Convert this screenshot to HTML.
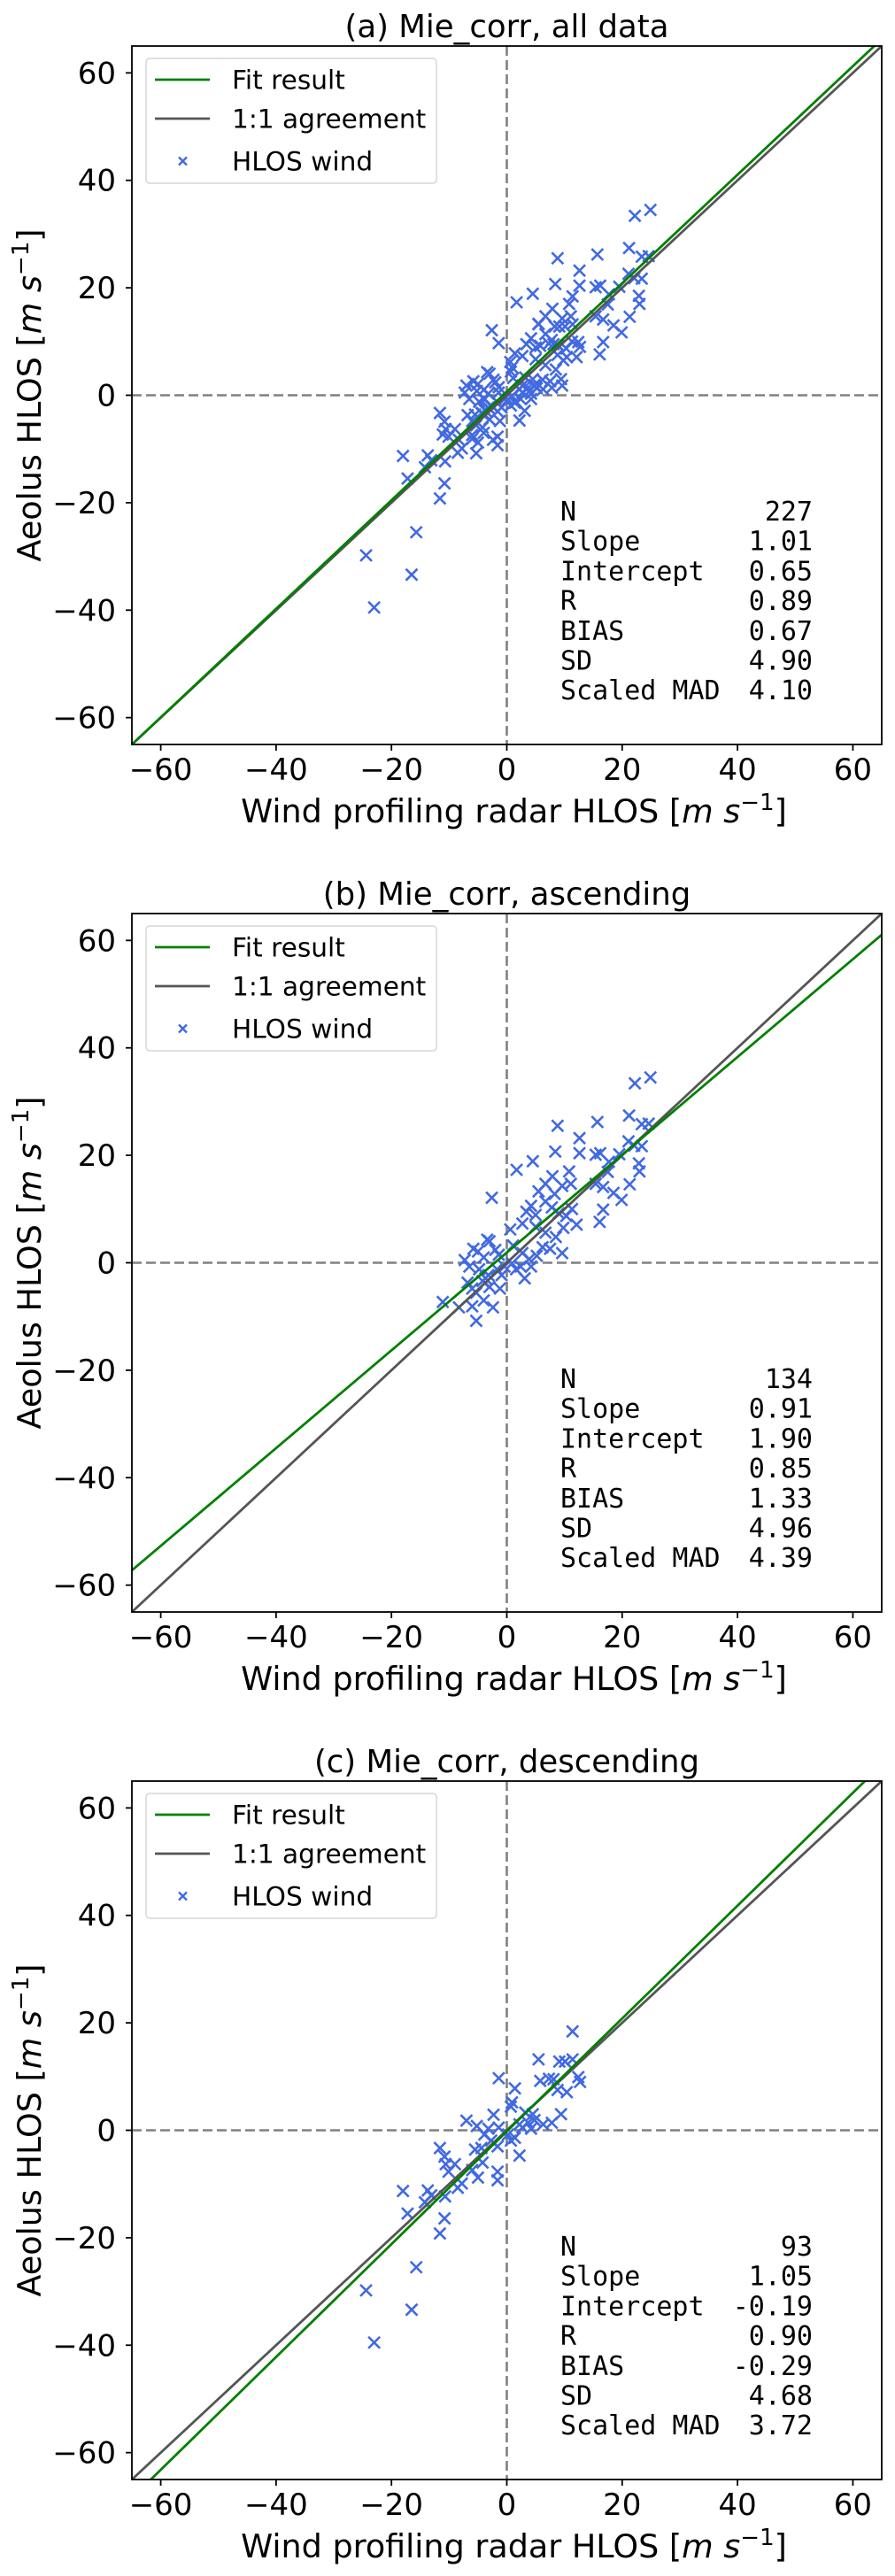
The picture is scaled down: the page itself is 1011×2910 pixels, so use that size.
<!DOCTYPE html>
<html><head><meta charset="utf-8"><style>
html,body{margin:0;padding:0;background:#fff;}
svg{display:block;font-family:"DejaVu Sans","Liberation Sans",sans-serif;}
</style></head><body>
<svg id="fig" width="1011" height="2910" viewBox="0 0 1011 2910" xmlns="http://www.w3.org/2000/svg"></svg>
<script>
const xTicks = [-60, -40, -20, 0, 20, 40, 60];
const yTicks = [-60, -40, -20, 0, 20, 40, 60];
const tickLabels = ["\u221260", "\u221240", "\u221220", "0", "20", "40", "60"];
const panelTitles = ["(a) Mie_corr, all data", "(b) Mie_corr, ascending", "(c) Mie_corr, descending"];
const fitSlopes = [1.01, 0.91, 1.05];
const fitIntercepts = [0.65, 1.90, -0.19];
const statNames = ["N", "Slope", "Intercept", "R", "BIAS", "SD", "Scaled MAD"];
const statsA = ["227", "1.01", "0.65", "0.89", "0.67", "4.90", "4.10"];
const statsB = ["134", "0.91", "1.90", "0.85", "1.33", "4.96", "4.39"];
const statsC = ["93", "1.05", "-0.19", "0.90", "-0.29", "4.68", "3.72"];
const ascX = [24.9,22.2,21.2,23.4,24.6,15.7,8.8,12.6,12.6,8.4,15.4,16.2,21.1,22.1,23.4,19.5,17.7,22.9,23.0,17.5,4.5,1.7,10.8,7.9,6.7,5.5,8.3,9.6,11.1,15.4,16.7,18.5,19.9,21.3,16.7,16.1,-2.6,4.2,5.0,3.4,6.7,7.8,9.0,10.3,11.3,12.1,9.8,8.5,9.6,2.7,0.6,5.0,6.7,6.2,7.5,1.1,2.7,3.9,5.2,2.4,3.1,4.2,1.6,0.9,-3.4,-3.0,-5.8,-5.0,-7.3,-6.5,-4.0,-2.0,-0.9,-1.7,-3.2,-4.2,-6.8,-6.0,-5.3,-4.0,-2.4,-6.0,-8.3,-11.1,-5.3,-1.2,-3.0,-0.4,-1.4,-4.8,-3.7];
const ascY = [34.5,33.4,27.4,25.8,25.9,26.2,25.5,23.2,20.4,20.7,20.1,20.4,22.6,21.8,21.7,20.2,18.8,18.5,17.0,16.9,18.9,17.3,17.0,16.1,14.7,13.3,12.8,14.3,14.7,14.7,14.1,13.0,11.7,14.6,9.9,7.6,12.1,10.6,8.9,9.5,11.4,10.3,9.2,8.7,10.0,7.1,6.5,4.8,1.8,7.3,6.2,6.7,5.6,2.9,2.6,3.2,1.8,0.7,1.3,-0.7,-2.9,-0.7,-1.2,-0.1,4.3,4.0,2.6,2.1,0.5,-0.7,1.0,2.4,-2.3,-1.2,-2.3,-3.4,-3.7,-4.8,-5.6,-7.0,-8.3,-8.1,-8.3,-7.3,-10.8,-4.8,-4.5,-0.7,1.5,-1.2,-2.9];
const descX = [11.4,5.5,9.1,10.1,11.4,-1.4,1.4,5.8,7.3,8.1,8.8,10.4,12.7,12.4,0.9,0.7,3.2,4.5,3.7,4.8,6.3,7.8,9.4,2.2,2.7,4.2,0.2,1.4,0.7,2.2,-7.0,-5.2,-2.3,-3.2,-1.4,-3.9,-2.7,-1.6,-5.5,-4.4,-4.2,-6.0,-5.0,-1.6,-1.6,-8.5,-7.8,-11.6,-10.8,-10.6,-10.1,-9.0,-13.7,-13.1,-14.2,-10.7,-18.0,-17.2,-10.8,-11.6,-15.7,-24.4,-16.5,-23.0];
const descY = [18.4,13.2,12.8,12.8,13.2,9.7,7.8,9.2,9.6,9.5,7.5,7.1,9.0,9.9,5.2,4.4,3.3,3.0,1.4,1.9,1.1,1.4,3.0,1.1,0.5,0.3,-0.8,-1.4,-1.9,-4.7,1.8,0.8,2.9,0.3,0.5,-0.8,-1.9,-3.0,-3.6,-3.3,-6.0,-7.4,-8.8,-7.7,-9.3,-10.7,-9.9,-3.3,-4.9,-6.3,-7.7,-6.3,-11.2,-12.1,-13.4,-12.3,-11.3,-15.5,-16.4,-19.2,-25.5,-29.8,-33.4,-39.5];

const NS = "http://www.w3.org/2000/svg";
const svg = document.getElementById("fig");
const PL = 149, PR = 996, PT0 = 52, PB0 = 841, PANEL_DY = 980;
function mk(tag, attrs, parent) {
  const e = document.createElementNS(NS, tag);
  for (const k in attrs) e.setAttribute(k, attrs[k]);
  parent.appendChild(e);
  return e;
}
function drawPanel(i, xs, ys, stats) {
  const top = PT0 + i * PANEL_DY, bot = PB0 + i * PANEL_DY;
  const sx = v => PL + (v + 65) / 130 * (PR - PL);
  const sy = v => bot - (v + 65) / 130 * (bot - top);
  const g = mk("g", {}, svg);
  
  
  const clipId = "clip" + i;
  const cp = mk("clipPath", {id: clipId}, g);
  mk("rect", {x: PL, y: top, width: PR - PL, height: bot - top}, cp);
  const t = mk("text", {x: (PL + PR) / 2, y: top - 10, "text-anchor": "middle", "font-size": 35.5}, g);
  t.textContent = panelTitles[i];
  
  
  const plot = mk("g", {"clip-path": "url(#" + clipId + ")"}, g);
  const hz = mk("line", {x1: PL, x2: PR, y1: sy(0), y2: sy(0), stroke: "#808080", "stroke-width": 2.6, "stroke-dasharray": "11,5"}, plot);
  
  
  const vt = mk("line", {x1: sx(0), x2: sx(0), y1: top, y2: bot, stroke: "#808080", "stroke-width": 2.6, "stroke-dasharray": "11,5"}, plot);
  
  
  for (let k = 0; k < xs.length; k++) {
    const cx = sx(xs[k]), cy = sy(ys[k]), r = 6.5;
    const p = mk("path", {d: `M${cx-r},${cy-r}L${cx+r},${cy+r}M${cx-r},${cy+r}L${cx+r},${cy-r}`, stroke: "#4169E1", "stroke-width": 2.6}, plot);
    
    
  }
  const one = mk("line", {x1: sx(-65), y1: sy(-65), x2: sx(65), y2: sy(65), stroke: "#555", "stroke-width": 2.8}, plot);
  
  
  const m = fitSlopes[i], b = fitIntercepts[i];
  const fit = mk("line", {x1: sx(-70), y1: sy(m * -70 + b), x2: sx(70), y2: sy(m * 70 + b), stroke: "#008000", "stroke-width": 2.8}, plot);
  
  
  const fr = mk("rect", {x: PL, y: top, width: PR - PL, height: bot - top, fill: "none", stroke: "#000", "stroke-width": 1.8}, g);
  
  
  for (let k = 0; k < xTicks.length; k++) {
    const x = sx(xTicks[k]);
    mk("line", {x1: x, x2: x, y1: bot, y2: bot + 7, stroke: "#000", "stroke-width": 1.8}, g);
    const tl = mk("text", {x: x, y: bot + 40, "text-anchor": "middle", "font-size": 34}, g);
    tl.textContent = tickLabels[k];
    
    
  }
  for (let k = 0; k < yTicks.length; k++) {
    const y = sy(yTicks[k]);
    mk("line", {x1: PL - 7, x2: PL, y1: y, y2: y, stroke: "#000", "stroke-width": 1.8}, g);
    const tl = mk("text", {x: PL - 18, y: y + 12, "text-anchor": "end", "font-size": 34}, g);
    tl.textContent = tickLabels[k];
    
    
  }
  const xl = mk("text", {x: (PL + PR) / 2 + 8, y: bot + 88, "text-anchor": "middle", "font-size": 36.5}, g);
  xl.innerHTML = 'Wind profiling radar HLOS [<tspan font-style="italic">m s</tspan><tspan dy="-14" font-size="26">\u22121</tspan><tspan dy="14">]</tspan>';
  
  
  const yc = (top + bot) / 2;
  const yl = mk("text", {x: 46, y: yc, "text-anchor": "middle", "font-size": 36.5, transform: `rotate(-90 46 ${yc})`}, g);
  yl.innerHTML = 'Aeolus HLOS [<tspan font-style="italic">m s</tspan><tspan dy="-14" font-size="26">\u22121</tspan><tspan dy="14">]</tspan>';
  
  
  const lg = mk("g", {}, g);
  
  
  mk("rect", {x: 165, y: top + 14, width: 328, height: 141, rx: 4, fill: "#fff", stroke: "#d6d6d6", "stroke-width": 1.5}, lg);
  const rows = [["Fit result", "#008000"], ["1:1 agreement", "#555"], ["HLOS wind", null]];
  const rowY = [38, 82, 130];
  for (let k = 0; k < 3; k++) {
    const ry = top + rowY[k];
    if (rows[k][1]) mk("line", {x1: 175, x2: 237, y1: ry, y2: ry, stroke: rows[k][1], "stroke-width": 2.8}, lg);
    else mk("path", {d: `M202,${ry-4.5}L211,${ry+4.5}M202,${ry+4.5}L211,${ry-4.5}`, stroke: "#4169E1", "stroke-width": 2.4}, lg);
    const lt = mk("text", {x: 262, y: ry + 10.5, "font-size": 29.6}, lg);
    lt.textContent = rows[k][0];
    
    
  }
  const sg = mk("g", {"font-family": "'DejaVu Sans Mono','Liberation Mono',monospace", "font-size": 30}, g);
  
  
  for (let k = 0; k < statNames.length; k++) {
    const by = top + 536 + k * 33.7;
    const a = mk("text", {x: 633, y: by}, sg);
    a.textContent = statNames[k];
    const v = mk("text", {x: 918, y: by, "text-anchor": "end"}, sg);
    v.textContent = stats[k];
  }
}
drawPanel(0, ascX.concat(descX), ascY.concat(descY), statsA);
drawPanel(1, ascX, ascY, statsB);
drawPanel(2, descX, descY, statsC);
</script>
</body></html>
